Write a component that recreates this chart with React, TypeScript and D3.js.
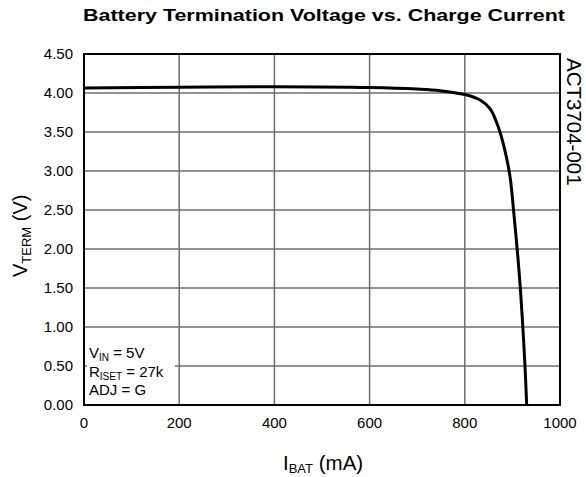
import React from "react";
import * as d3 from "d3";

// curve
const currentMa = [0, 200, 400, 600, 700, 748, 800, 832, 853, 870, 884, 895, 903, 912, 917, 922, 926.5, 930];
const vTerm = [4.065, 4.075, 4.08, 4.07, 4.05, 4.03, 3.98, 3.91, 3.8, 3.57, 3.27, 2.93, 2.46, 1.86, 1.47, 0.99, 0.49, 0.0];

const xTicks = [0, 200, 400, 600, 800, 1000];
const yTicks = [0, 0.5, 1.0, 1.5, 2.0, 2.5, 3.0, 3.5, 4.0, 4.5];

const W = 586;
const H = 477;
const FONT = "Liberation Sans, Arial, Helvetica, sans-serif";

export default function App() {
  const x = d3.scaleLinear().domain([0, 1000]).range([84, 560]);
  const y = d3.scaleLinear().domain([0, 4.5]).range([405, 54]);

  const pts = currentMa.map((c, i) => [c, vTerm[i]] as [number, number]);
  const line = d3
    .line<[number, number]>()
    .x((d) => x(d[0]))
    .y((d) => y(d[1]))
    .curve(d3.curveCatmullRom.alpha(0.5));

  return (
    <svg
      width={W}
      height={H}
      style={{ position: "absolute", left: 0, top: 0, background: "#fff" }}
      fontFamily={FONT}
    >
      <text
        x={83}
        y={21}
        fontSize={17}
        fontWeight="bold"
        textLength={482}
        lengthAdjust="spacingAndGlyphs"
      >
        Battery Termination Voltage vs. Charge Current
      </text>

      {/* grid */}
      <g stroke="#6e6e6e" strokeWidth={1.5}>
        {xTicks.slice(1, -1).map((t) => (
          <line key={"x" + t} x1={x(t)} x2={x(t)} y1={y(4.5)} y2={y(0)} />
        ))}
        {yTicks.slice(1, -1).map((t) => (
          <line key={"y" + t} x1={x(0)} x2={x(1000)} y1={y(t)} y2={y(t)} />
        ))}
      </g>

      {/* conditions box */}
      <rect x={87} y={343} width={88} height={58} fill="#fff" />
      <g fontSize={15} fill="#000">
        <text x={89} y={358}>
          V<tspan fontSize={10} dy={3}>IN</tspan>
          <tspan dy={-3}> = 5V</tspan>
        </text>
        <text x={89} y={377}>
          R<tspan fontSize={10} dy={3}>ISET</tspan>
          <tspan dy={-3}> = 27k</tspan>
        </text>
        <text x={89} y={395}>ADJ = G</text>
      </g>

      <path d={line(pts) || ""} fill="none" stroke="#000" strokeWidth={3} />

      <rect
        x={x(0)}
        y={y(4.5)}
        width={x(1000) - x(0)}
        height={y(0) - y(4.5)}
        fill="none"
        stroke="#000"
        strokeWidth={2}
      />

      {/* tick labels */}
      <g fontSize={15} fill="#000">
        {yTicks.map((t) => (
          <text key={"yl" + t} x={73} y={y(t) + 5} textAnchor="end">
            {t.toFixed(2)}
          </text>
        ))}
        {xTicks.map((t) => (
          <text key={"xl" + t} x={x(t)} y={428} textAnchor="middle">
            {t}
          </text>
        ))}
      </g>

      {/* axis titles */}
      <text transform="translate(27,277) rotate(-90)" fontSize={20}>
        V<tspan fontSize={13} dy={4}>TERM</tspan>
        <tspan dy={-4}> (V)</tspan>
      </text>
      <text x={283} y={470} fontSize={20.5}>
        I<tspan fontSize={13} dy={3}>BAT</tspan>
        <tspan dy={-3}> (mA)</tspan>
      </text>

      <text transform="translate(567,58) rotate(90)" fontSize={20.5}>
        ACT3704-001
      </text>
    </svg>
  );
}
